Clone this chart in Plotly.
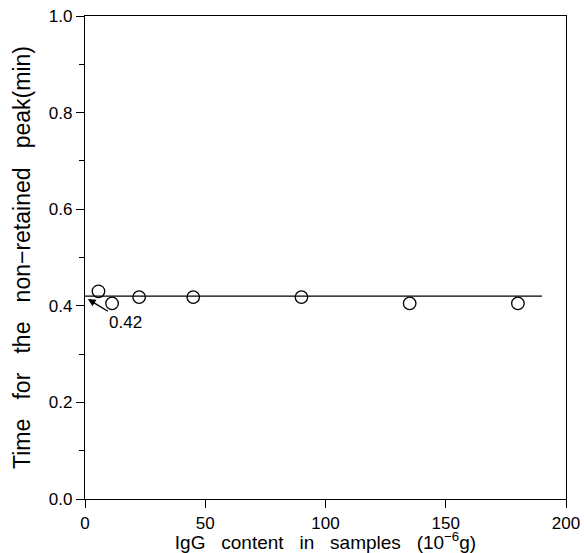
import plotly.graph_objects as go

igg_content = [5.6, 11.25, 22.5, 45, 90, 135, 180]
peak_time = [0.43, 0.405, 0.418, 0.418, 0.418, 0.405, 0.405]
fit_x = [0, 190]
fit_y = [0.42, 0.42]
x_ticks = [0, 50, 100, 150, 200]
y_ticks = [0.0, 0.2, 0.4, 0.6, 0.8, 1.0]
y_tick_labels = ["0.0", "0.2", "0.4", "0.6", "0.8", "1.0"]
y_minor_ticks = [0.1, 0.3, 0.5, 0.7, 0.9]

FONT = "Liberation Sans, Arial, sans-serif"
sp = "\u00a0"

fig = go.Figure()
fig.add_trace(go.Scatter(x=fit_x, y=fit_y, mode="lines",
                         line=dict(color="black", width=1.2), showlegend=False))
fig.add_trace(go.Scatter(x=igg_content, y=peak_time, mode="markers",
                         marker=dict(symbol="circle-open", size=12.5,
                                     color="black", line=dict(width=1.3)),
                         showlegend=False))

fig.add_annotation(x=1.2, y=0.414, ax=17, ay=0.366, xref="x", yref="y",
                   axref="x", ayref="y", text="0.42", showarrow=True,
                   arrowhead=2, arrowsize=1.1, arrowwidth=1.4, arrowcolor="black",
                   standoff=0, font=dict(family=FONT, size=17, color="black"))

fig.update_layout(
    width=584, height=553,
    margin=dict(l=85, r=18, t=16, b=54, autoexpand=False),
    paper_bgcolor="white", plot_bgcolor="white",
    font=dict(family=FONT, size=17, color="black"),
)
fig.update_xaxes(
    range=[0, 200], tickvals=x_ticks, ticks="outside", ticklen=8,
    tickwidth=1.2, tickcolor="black", showline=True, linecolor="black",
    linewidth=1.2, mirror=True, showgrid=False, zeroline=False,
    automargin=False,
    tickfont=dict(family=FONT, size=17),
    title=dict(text=f"IgG{sp*3}content{sp*3}in{sp*3}samples{sp*3}(10<sup>−6</sup>g)",
               font=dict(family=FONT, size=19), standoff=5),
)
fig.update_yaxes(
    range=[0, 1.0], tickvals=y_ticks, ticktext=y_tick_labels, ticks="outside",
    ticklen=8, tickwidth=1.2, tickcolor="black", showline=True,
    linecolor="black", linewidth=1.2, mirror=True, showgrid=False,
    zeroline=False, automargin=False, tickfont=dict(family=FONT, size=17),
    minor=dict(tickvals=y_minor_ticks, ticks="outside",
               ticklen=5, tickwidth=1.2, tickcolor="black"),
    title=dict(text=f"Time{sp*3}for{sp*3}the{sp*3}non−retained{sp*3}peak(min)",
               font=dict(family=FONT, size=23), standoff=11),
)

fig.write_html("out.html")
